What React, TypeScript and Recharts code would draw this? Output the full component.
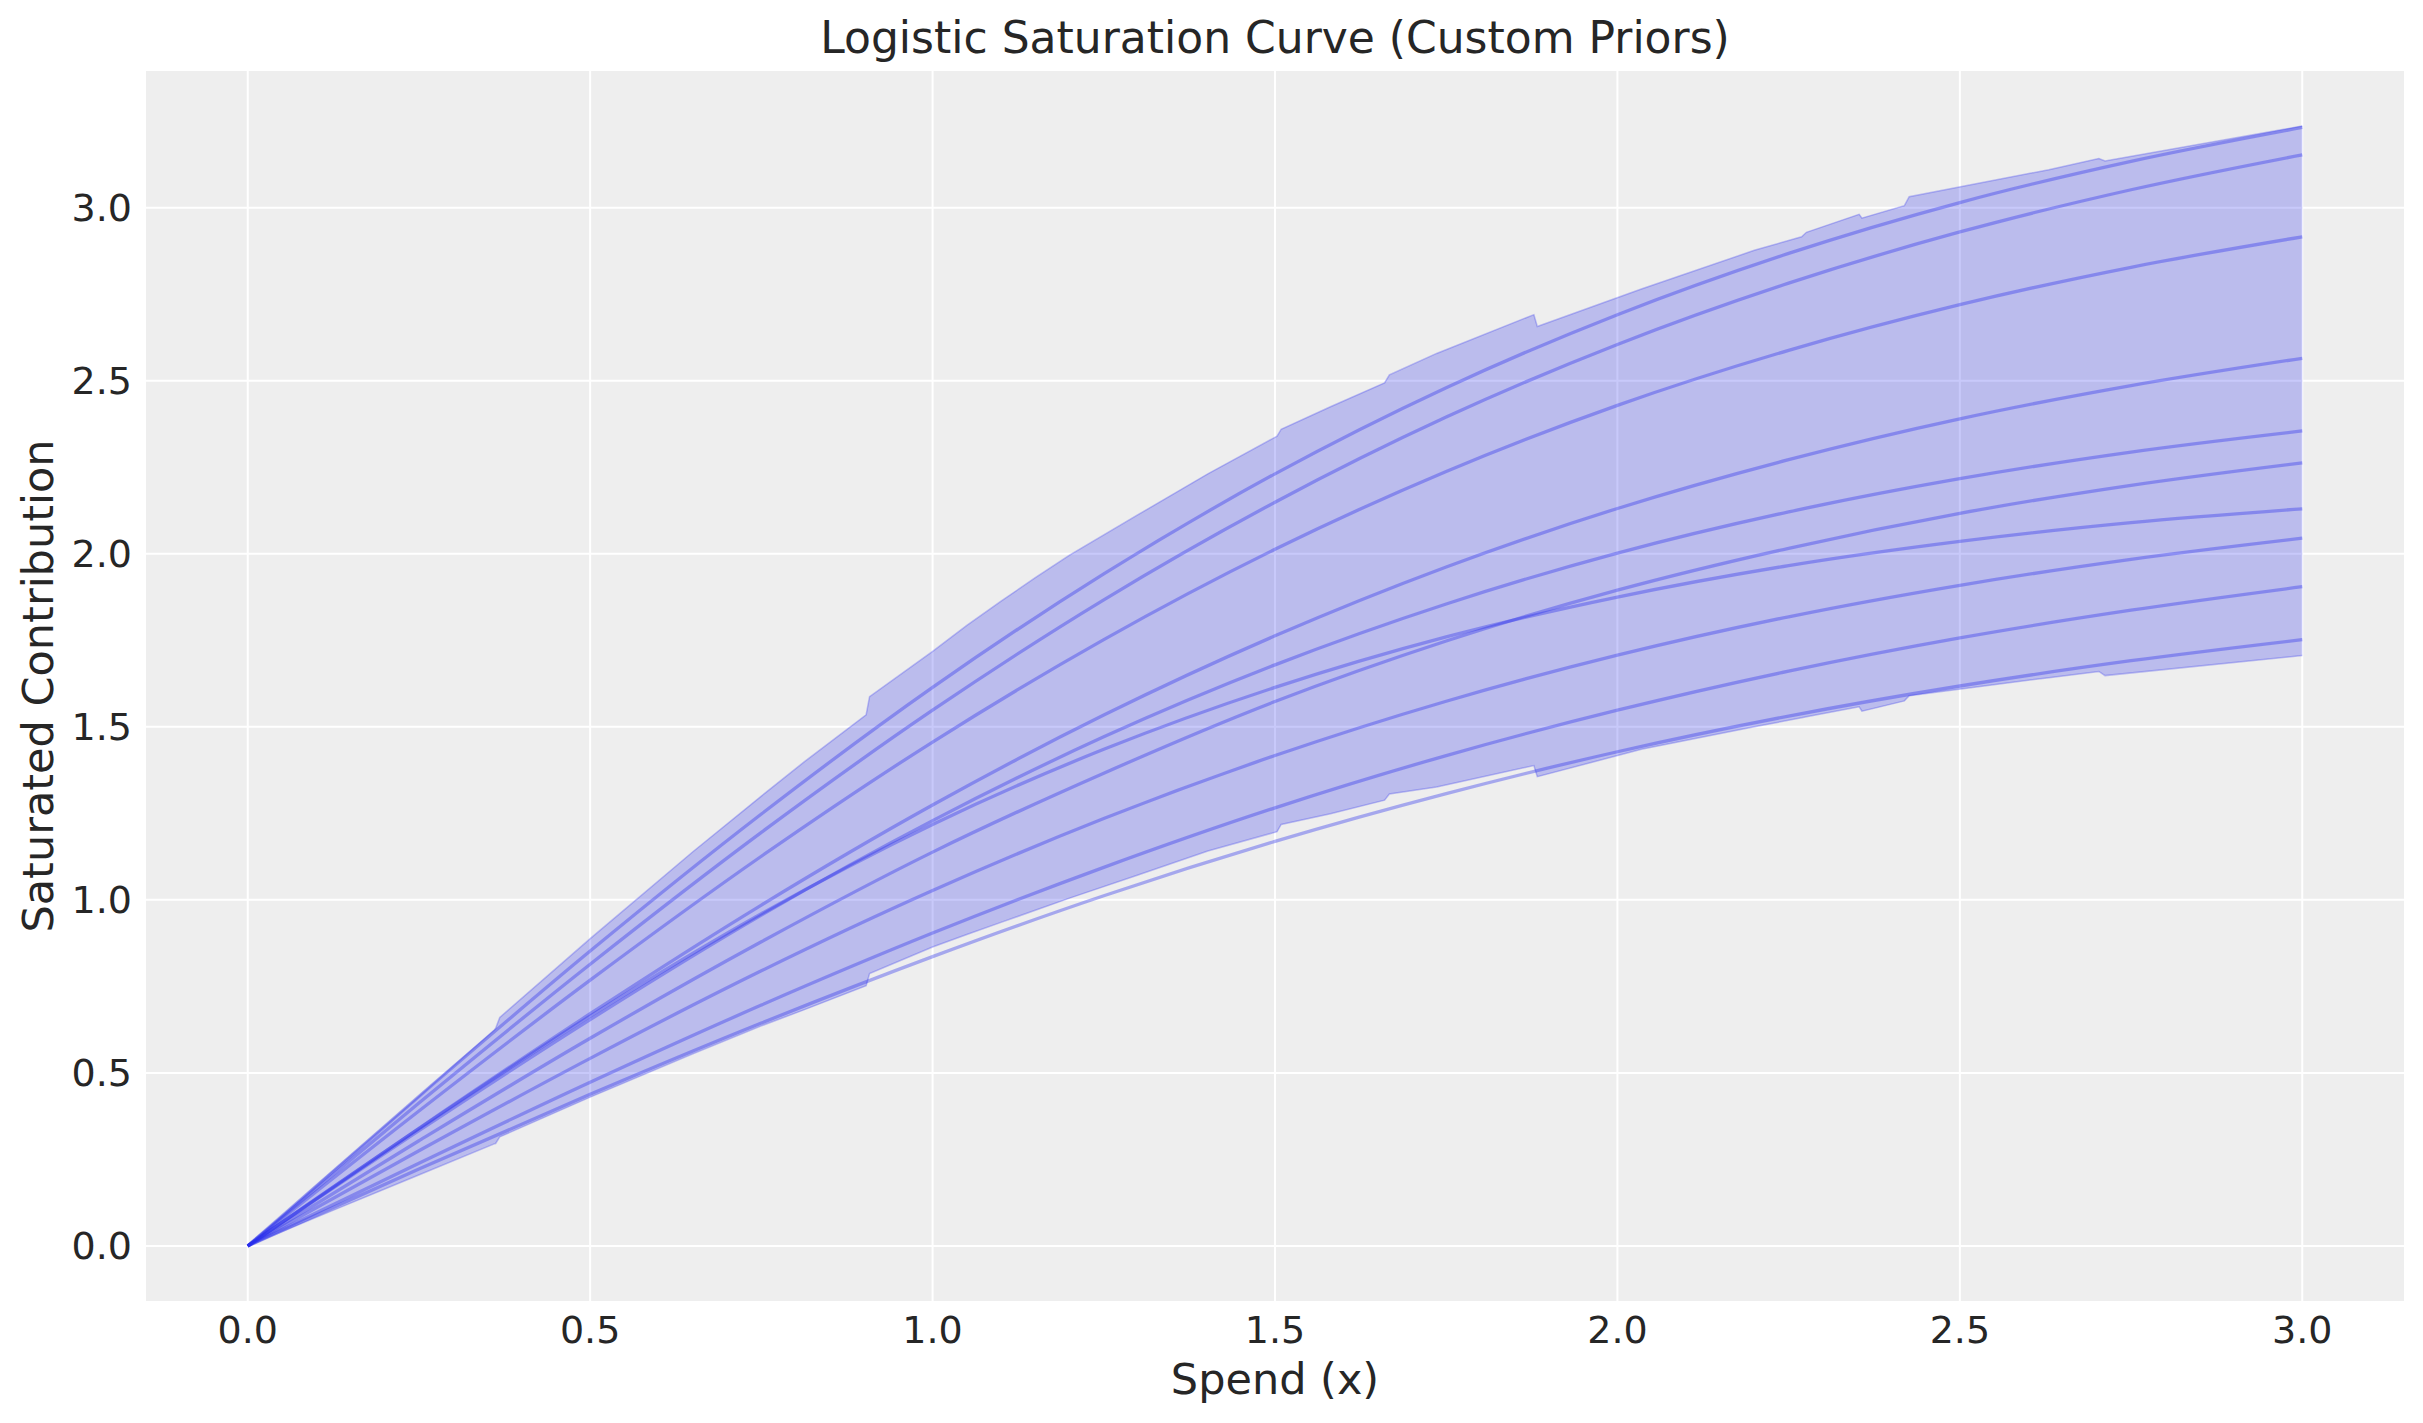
import { ComposedChart, Line, Area, XAxis, YAxis, CartesianGrid } from "recharts";

// sample curves at these spend values
const spend = [0, 0.25, 0.5, 0.75, 1, 1.25, 1.5, 1.75, 2, 2.25, 2.5, 2.75, 3];

const curve1 = [0, 0.432, 0.852, 1.248, 1.614, 1.942, 2.231, 2.48, 2.691, 2.868, 3.015, 3.134, 3.232];
const curve2 = [0, 0.413, 0.814, 1.195, 1.548, 1.867, 2.149, 2.395, 2.605, 2.782, 2.93, 3.052, 3.153];
const curve3 = [0, 0.39, 0.768, 1.126, 1.456, 1.752, 2.013, 2.238, 2.429, 2.588, 2.72, 2.828, 2.916];
const curve4 = [0, 0.34, 0.671, 0.985, 1.274, 1.534, 1.763, 1.962, 2.131, 2.272, 2.39, 2.486, 2.565];
const curve5 = [0, 0.333, 0.654, 0.956, 1.229, 1.471, 1.679, 1.855, 2.002, 2.121, 2.217, 2.294, 2.355];
const curve6 = [0, 0.304, 0.6, 0.879, 1.138, 1.366, 1.573, 1.748, 1.895, 2.016, 2.117, 2.198, 2.263];
const curve7 = [0, 0.339, 0.664, 0.96, 1.218, 1.435, 1.614, 1.76, 1.875, 1.966, 2.036, 2.09, 2.13];
const curve8 = [0, 0.275, 0.542, 0.795, 1.027, 1.235, 1.417, 1.574, 1.707, 1.818, 1.909, 1.984, 2.045];
const curve9 = [0, 0.239, 0.473, 0.696, 0.904, 1.094, 1.266, 1.417, 1.548, 1.661, 1.757, 1.837, 1.905];
const curve10 = [0, 0.222, 0.438, 0.644, 0.836, 1.012, 1.169, 1.307, 1.428, 1.531, 1.618, 1.691, 1.752];

const curves = [curve1, curve2, curve3, curve4, curve5, curve6, curve7, curve8, curve9, curve10];

// HDI band (jagged edges)
const bandX = [
  0, 0.12, 0.24, 0.36, 0.362, 0.368, 0.5, 0.65, 0.75, 0.812, 0.903, 0.908, 1, 1.05, 1.1, 1.15, 1.2, 1.3,
  1.402, 1.503, 1.509, 1.581, 1.66, 1.667, 1.736, 1.878, 1.883, 2.035, 2.2, 2.269, 2.276,
  2.353, 2.357, 2.419, 2.426, 2.63, 2.703, 2.712, 3,
];
const bandLow = [
  0, 0.099, 0.197, 0.295, 0.296, 0.315, 0.43, 0.555, 0.636, 0.682, 0.752, 0.787, 0.864, 0.9, 0.935, 0.97, 1.005, 1.072,
  1.141, 1.197, 1.218, 1.249, 1.288, 1.306, 1.326, 1.388, 1.356, 1.435, 1.5, 1.526, 1.529,
  1.558, 1.545, 1.575, 1.59, 1.642, 1.66, 1.648, 1.706,
];
const bandHigh = [
  0, 0.209, 0.415, 0.624, 0.629, 0.66, 0.888, 1.139, 1.3, 1.398, 1.535, 1.587, 1.718, 1.793, 1.863, 1.931, 1.996, 2.113,
  2.231, 2.34, 2.36, 2.425, 2.494, 2.517, 2.579, 2.691, 2.657, 2.765, 2.877, 2.916, 2.929,
  2.981, 2.97, 3.006, 3.032, 3.11, 3.142, 3.135, 3.236,
];

const xTicks = [0, 0.5, 1, 1.5, 2, 2.5, 3];
const yTicks = [0, 0.5, 1, 1.5, 2, 2.5, 3];

const curveRows = spend.map((x, i) => {
  const row: Record<string, number> = { x };
  curves.forEach((c, k) => {
    row[`c${k + 1}`] = c[i];
  });
  return row;
});

const bandRows = bandX.map((x, i) => ({ x, range: [bandLow[i], bandHigh[i]] }));

const BLUE = "#2a2eec";
const TEXT = "#262626";
const FONT = "DejaVu Sans";

const App = () => {
  return (
    <div style={{ position: "relative", width: 2423, height: 1423, fontFamily: FONT }}>
      <style>{"body{margin:0}"}</style>
      <ComposedChart
        width={2423}
        height={1423}
        data={curveRows}
        margin={{ top: 70, right: 18, bottom: 0, left: 0 }}
      >
        <CartesianGrid stroke="#ffffff" strokeWidth={2} fill="#eeeeee" fillOpacity={1} />
        <XAxis
          dataKey="x"
          type="number"
          domain={[-0.15, 3.15]}
          ticks={xTicks}
          interval={0}
          allowDataOverflow
          height={121}
          axisLine={false}
          tickLine={false}
          tickSize={6}
          tickMargin={8}
          tickFormatter={(v: number) => v.toFixed(1)}
          tick={{ fill: TEXT, fontSize: 38, fontFamily: FONT }}
        />
        <YAxis
          type="number"
          domain={[-0.162, 3.398]}
          ticks={yTicks}
          interval={0}
          allowDataOverflow
          width={145}
          axisLine={false}
          tickLine={false}
          tickSize={6}
          tickMargin={7}
          tickFormatter={(v: number) => v.toFixed(1)}
          tick={{ fill: TEXT, fontSize: 38, fontFamily: FONT }}
        />
        <Area
          data={bandRows}
          dataKey="range"
          type="linear"
          fill={BLUE}
          fillOpacity={0.26}
          stroke={BLUE}
          strokeOpacity={0.28}
          strokeWidth={1.5}
          isAnimationActive={false}
        />
        {curves.map((_, k) => (
          <Line
            key={k}
            dataKey={`c${k + 1}`}
            type="monotone"
            stroke={BLUE}
            strokeOpacity={0.37}
            strokeWidth={3.3}
            dot={false}
            activeDot={false}
            isAnimationActive={false}
          />
        ))}
      </ComposedChart>
      <svg
        width={2423}
        height={1423}
        style={{ position: "absolute", left: 0, top: 0, pointerEvents: "none" }}
      >
        <text x={1275} y={53} textAnchor="middle" fontSize={44} fill={TEXT} fontFamily={FONT}>
          Logistic Saturation Curve (Custom Priors)
        </text>
        <text x={1275} y={1394} textAnchor="middle" fontSize={43} fill={TEXT} fontFamily={FONT}>
          Spend (x)
        </text>
        <text
          x={53}
          y={686}
          textAnchor="middle"
          fontSize={43}
          fill={TEXT}
          fontFamily={FONT}
          transform="rotate(-90, 53, 686)"
        >
          Saturated Contribution
        </text>
      </svg>
    </div>
  );
};

export default App;
